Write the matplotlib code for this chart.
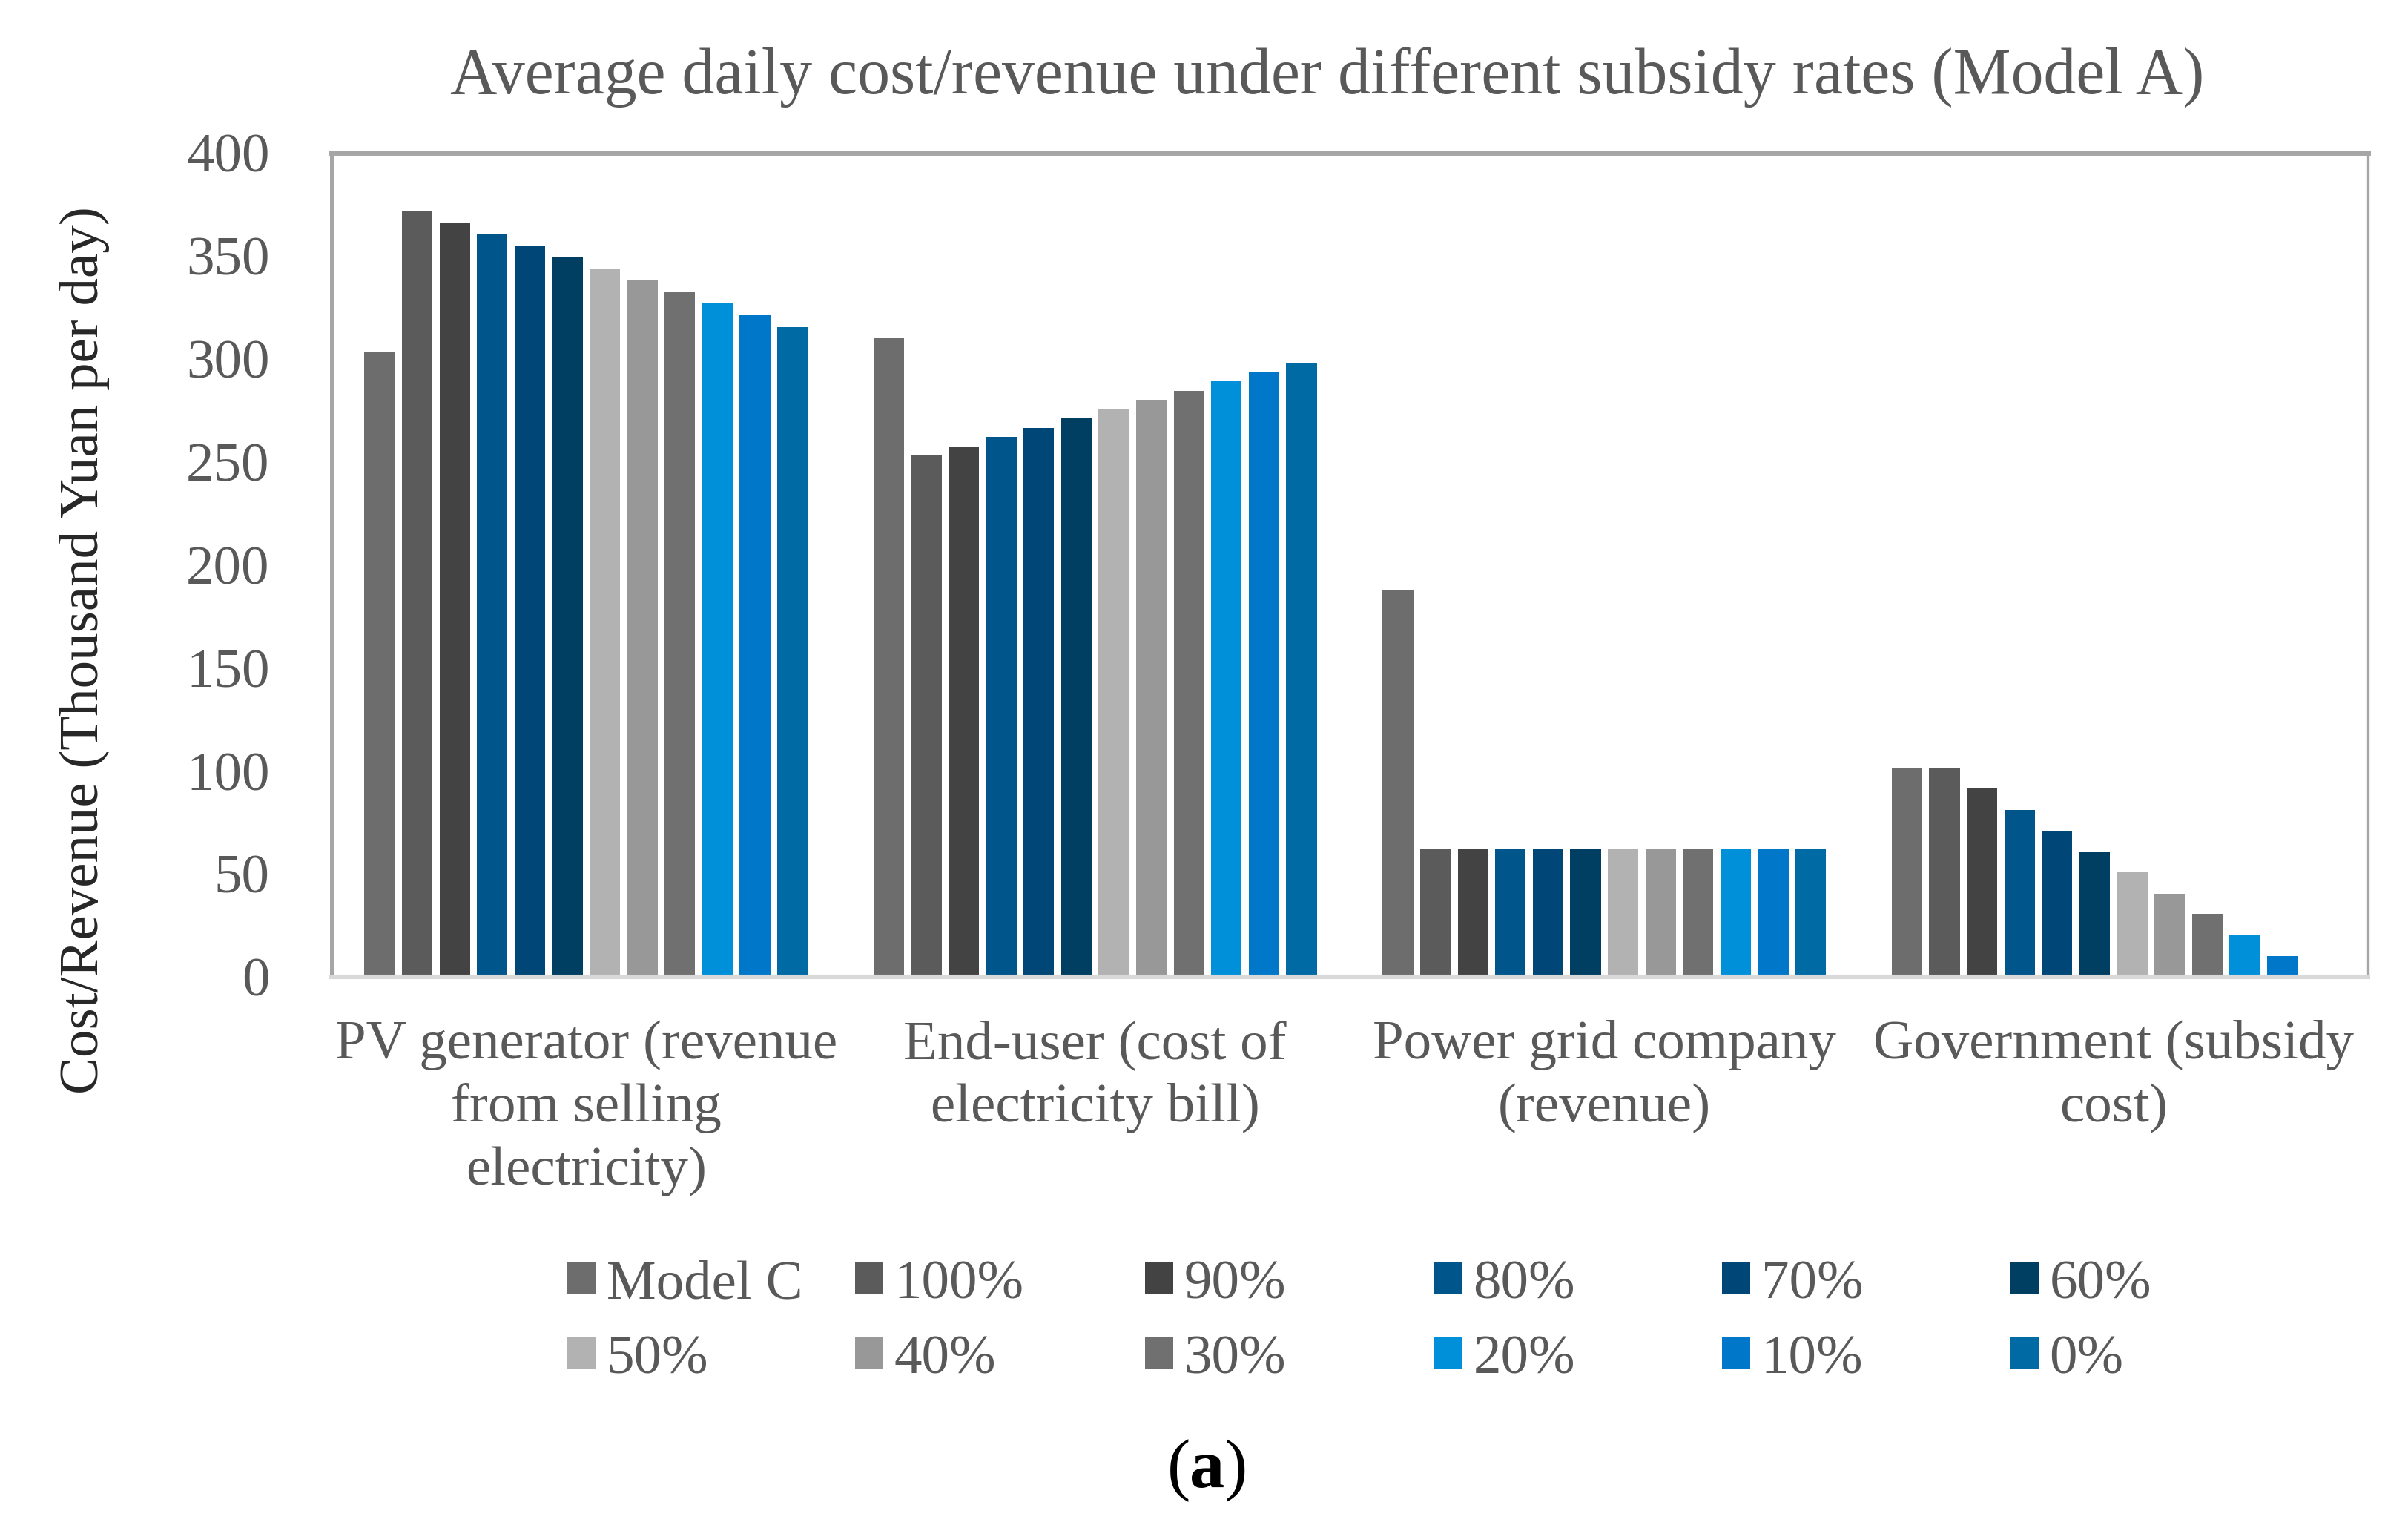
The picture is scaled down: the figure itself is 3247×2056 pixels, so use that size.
import matplotlib
matplotlib.use("Agg")
import matplotlib.pyplot as plt
from matplotlib.patches import Patch
import numpy as np

plt.rcParams["font.family"] = ["Liberation Serif", "DejaVu Serif"]

categories = [
    "PV generator (revenue\nfrom selling\nelectricity)",
    "End-user (cost of\nelectricity bill)",
    "Power grid company\n(revenue)",
    "Government (subsidy\ncost)",
]
series_labels = ["Model C", "100%", "90%", "80%", "70%", "60%",
                 "50%", "40%", "30%", "20%", "10%", "0%"]

# one value per series, in legend order
pv_generator = [303, 372, 366, 360.5, 355, 349.5, 343.5, 338, 332.5, 327, 321, 315.5]
end_user = [310, 253, 257.5, 262, 266.5, 271, 275.5, 280, 284.5, 289, 293.5, 298]
power_grid = [188, 61.8, 61.8, 61.8, 61.8, 61.8, 61.8, 61.8, 61.8, 61.8, 61.8, 61.8]
government = [101.5, 101.5, 91.5, 81, 71, 61, 51, 40.5, 30.5, 20.5, 10, 0]

colors = ["#6d6d6d", "#5b5b5b", "#434343", "#00558a", "#004677", "#003f62",
          "#b2b2b2", "#989898", "#707070", "#0090da", "#0077c8", "#006aa5"]

TEXT = "#595959"
FS = 27
W, H = 3247, 2056
fig = plt.figure(figsize=(W / 200, H / 200), dpi=200)
ax = fig.add_axes([447 / W, 1 - 1317 / H, 2746 / W, 1111 / H])

values = np.array([pv_generator, end_user, power_grid, government])
x = np.arange(len(categories))
pitch = 0.0737
width = 0.060
n = len(series_labels)
for i, (lab, col) in enumerate(zip(series_labels, colors)):
    ax.bar(x + (i - (n - 1) / 2) * pitch, values[:, i], width=width,
           color=col, label=lab, zorder=2)

ax.set_xlim(-0.5, 3.5)
ax.set_ylim(0, 400)
ax.set_yticks(np.arange(0, 401, 50))
ax.set_xticks(x)
ax.set_xticklabels(categories, linespacing=1.33)
ax.tick_params(axis="both", length=0, labelsize=FS, colors=TEXT)
ax.tick_params(axis="y", pad=30)
ax.tick_params(axis="x", pad=21)

ax.spines["left"].set_color("#a6a6a6")
ax.spines["left"].set_linewidth(1.8)
ax.spines["top"].set_color("#a6a6a6")
ax.spines["top"].set_linewidth(2.5)
ax.spines["right"].set_color("#a6a6a6")
ax.spines["right"].set_linewidth(1.2)
ax.spines["bottom"].set_color("#d9d9d9")
ax.spines["bottom"].set_linewidth(2.2)

fig.text(1790 / W, 1 - 104 / H, "Average daily cost/revenue under different subsidy rates (Model A)",
         ha="center", va="center", fontsize=31.6, color=TEXT)
fig.text(114 / W, 1 - 877 / H, "Cost/Revenue (Thousand Yuan per day)",
         ha="center", va="center", rotation=90, fontsize=FS, color="#262626")

# legend: six evenly spaced columns, two rows each
col_left = [765, 1153, 1544, 1934, 2322, 2711]
for j, xl in enumerate(col_left):
    idx = [j, j + 6]
    leg = fig.legend([Patch(facecolor=colors[k]) for k in idx],
                     [series_labels[k] for k in idx],
                     loc="center left", bbox_to_anchor=(xl / W, 1 - 1783 / H),
                     frameon=False, fontsize=FS, handlelength=0.5, handleheight=0.5,
                     handletextpad=0.2, labelspacing=0.45, borderpad=0, borderaxespad=0)
    for t in leg.get_texts():
        t.set_color(TEXT)

# panel tag: regular parentheses around a bold "a"
ya = 1 - 1983 / H
fig.text(1628 / W, ya, "a", ha="center", va="center", fontsize=34,
         fontweight="bold", color="black")
fig.text(1605 / W, ya, "(", ha="right", va="center", fontsize=34, color="black")
fig.text(1651 / W, ya, ")", ha="left", va="center", fontsize=34, color="black")

fig.savefig("out.png", dpi=200)
